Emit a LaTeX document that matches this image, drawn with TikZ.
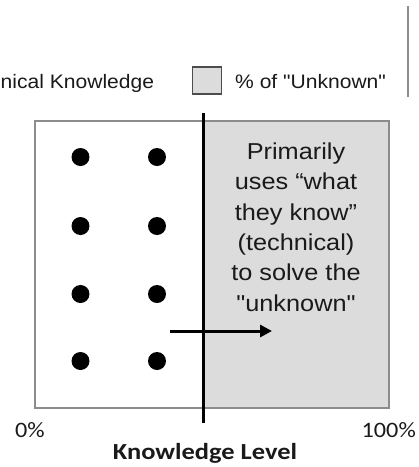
\documentclass[tikz,border=0pt]{standalone}
\usepackage{fontspec}
\setmainfont{Liberation Sans}
\newfontfamily\arialf[FakeStretch=1.1]{Liberation Sans}
\newfontfamily\legf[FakeStretch=1.08]{Liberation Sans}
\newfontfamily\calf[FakeStretch=1.1]{Carlito}
\newfontfamily\calbf[FakeStretch=1.15]{Carlito Bold}
\usetikzlibrary{arrows.meta}
\definecolor{unkfill}{HTML}{DCDCDC}
\definecolor{frame}{HTML}{8C8C8C}
\definecolor{ink}{HTML}{1A1A1A}
\tikzset{
  dot/.style={circle, fill=black, inner sep=0pt, minimum size=18pt},
  legtext/.style={inner sep=0pt, text=ink, font=\legf\fontsize{19.5}{22}\selectfont},
  axistext/.style={inner sep=0pt, text=ink, font=\calf\fontsize{22}{24}\selectfont},
  divider/.style={line width=3pt, black},
  pusharrow/.style={line width=3pt, black, -{Triangle[length=12pt,width=12pt]}},
}
\begin{document}
\begin{tikzpicture}[x=1pt, y=-1pt]
  \clip (0,0) rectangle (419,467);
  \fill[white] (0,0) rectangle (419,467);

  % legend
  \node[legtext, anchor=base west] (legknown) at (0.5,88) {nical Knowledge};
  \node[draw=black!70, line width=1.5pt, fill=unkfill, minimum width=29pt,
        minimum height=27pt, inner sep=0pt] (legbox) at (207,80.5) {};
  \node[legtext, anchor=base west] (legunk) at (235,88) {\% of "Unknown"};
  \draw[frame, line width=2pt] (408,6) -- (408,97);

  % knowledge area
  \fill[unkfill] (203,121) rectangle (389,408);
  \draw[frame, line width=1.3pt] (35,121) rectangle (389,408);

  % dots standing for known technical items
  \foreach \r/\yy in {1/157,2/226,3/294,4/361}{
    \node[dot] (dl\r) at (80.5,\yy) {};
    \node[dot] (dr\r) at (157,\yy) {};
  }

  % split between known and unknown
  \coordinate (divtop) at (203,113);
  \coordinate (divbot) at (203,423);
  \draw[divider] (divtop) -- (divbot);

  % push into the unknown
  \coordinate (arrS) at (170,331);
  \coordinate (arrE) at (272,331);
  \draw[pusharrow] (arrS) -- (arrE);

  \node[anchor=north, align=center, inner sep=0pt, text=ink,
        font=\arialf\fontsize{23}{30.4}\selectfont] (note) at (296,142.5)
    {Primarily\\uses “what\\they know”\\(technical)\\to solve the\\"unknown"};

  % axis labels
  \node[axistext, anchor=base west] (zero) at (15,437) {0\%};
  \node[axistext, anchor=base east] (hundred) at (416,437) {100\%};
  \node[inner sep=0pt, text=ink, anchor=base, font=\calbf\fontsize{23}{25}\selectfont] (axis) at (205,459) {Knowledge Level};
\end{tikzpicture}
\end{document}
